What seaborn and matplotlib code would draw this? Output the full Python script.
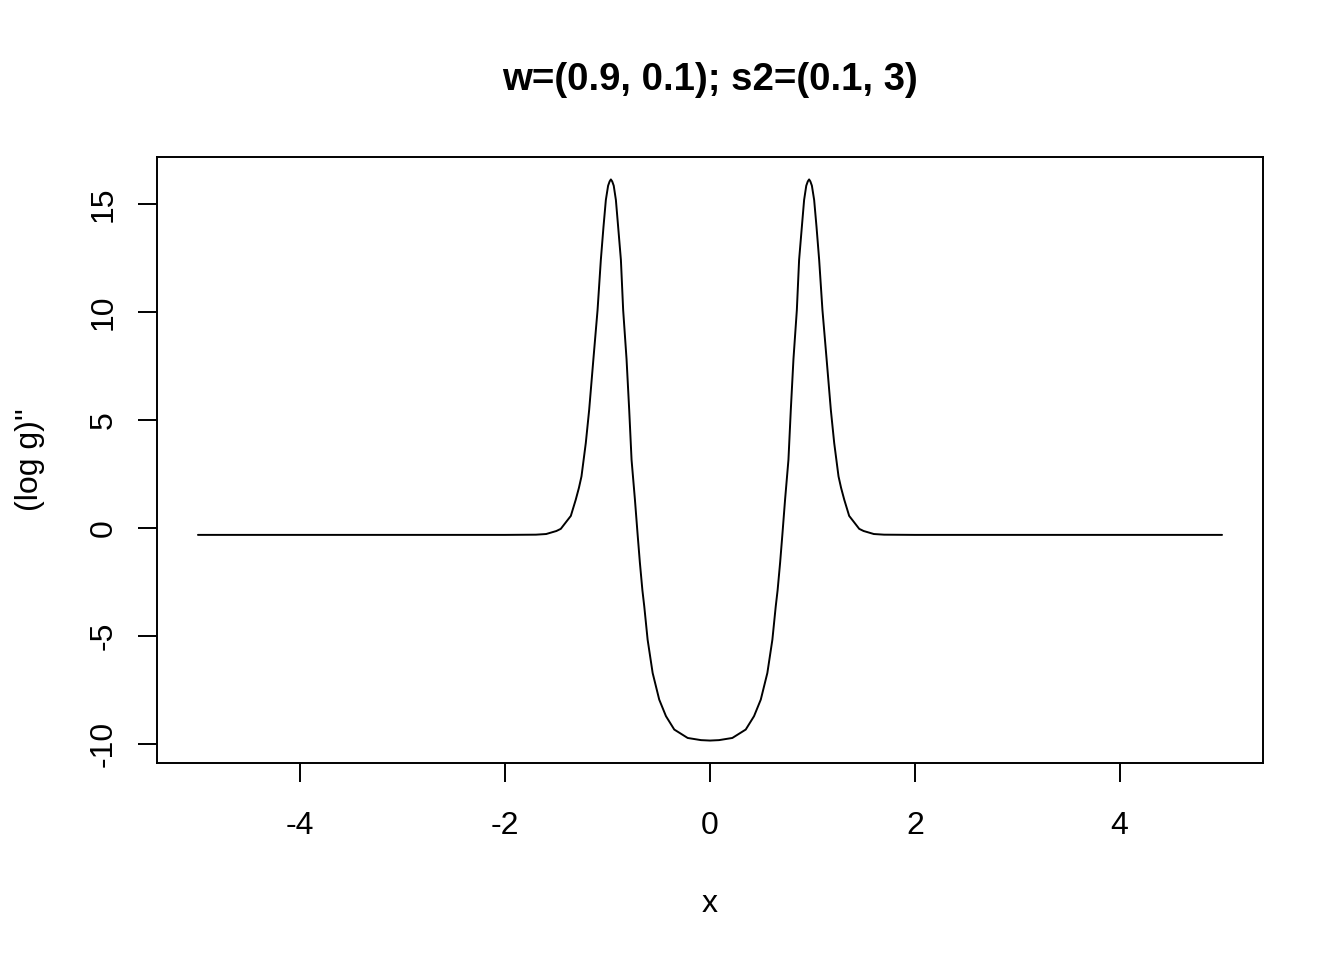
import matplotlib
matplotlib.use("Agg")
import matplotlib.pyplot as plt
import seaborn as sns
import pandas as pd

x_vals = [-5.0, -2.0, -1.7, -1.6, -1.5, -1.457, -1.40, -1.359, -1.311, -1.28, -1.255,
          -1.213, -1.18, -1.138, -1.098, -1.066, -1.04, -1.017, -0.995, -0.98, -0.968,
          -0.955, -0.94, -0.919, -0.897, -0.87, -0.848, -0.815, -0.789, -0.766, -0.733,
          -0.707, -0.685, -0.66, -0.642, -0.609, -0.56, -0.496, -0.43, -0.349, -0.218,
          -0.088, 0.0,
          0.088, 0.218, 0.349, 0.43, 0.496, 0.56, 0.609, 0.642, 0.66, 0.685, 0.707,
          0.733, 0.766, 0.789, 0.815, 0.848, 0.87, 0.897, 0.919, 0.94, 0.955, 0.968,
          0.98, 0.995, 1.017, 1.04, 1.066, 1.098, 1.138, 1.18, 1.213, 1.255, 1.28,
          1.311, 1.359, 1.40, 1.457, 1.5, 1.6, 1.7, 2.0, 5.0]
y_vals = [-0.33, -0.33, -0.32, -0.29, -0.15, -0.05, 0.30, 0.55, 1.30, 1.85, 2.38,
          3.92, 5.46, 7.85, 10.09, 12.41, 13.95, 15.19, 15.85, 16.05, 16.14,
          16.05, 15.85, 15.19, 13.95, 12.41, 10.09, 7.82, 5.46, 3.15, 1.30,
          -0.3, -1.6, -2.9, -3.64, -5.19, -6.73, -7.96, -8.73, -9.35, -9.74,
          -9.84, -9.86,
          -9.84, -9.74, -9.35, -8.73, -7.96, -6.73, -5.19, -3.64, -2.9, -1.6, -0.3,
          1.30, 3.15, 5.46, 7.82, 10.09, 12.41, 13.95, 15.19, 15.85, 16.05, 16.14,
          16.05, 15.85, 15.19, 13.95, 12.41, 10.09, 7.85, 5.46, 3.92, 2.38, 1.85,
          1.30, 0.55, 0.30, -0.05, -0.15, -0.29, -0.32, -0.33, -0.33]
x_ticks = [-4, -2, 0, 2, 4]
y_ticks = [-10, -5, 0, 5, 10, 15]
title = "w=(0.9, 0.1); s2=(0.1, 3)"
x_label = "x"
y_label = "(log g)''"

sns.set_theme(style="white")
plt.rcParams["font.family"] = ["Liberation Sans", "DejaVu Sans"]
plt.rcParams["axes.unicode_minus"] = False
plt.rcParams["text.color"] = "black"
plt.rcParams["axes.labelcolor"] = "black"

df = pd.DataFrame({"x": x_vals, "y": y_vals})

fig = plt.figure(figsize=(13.44, 9.6), dpi=100)
ax = fig.add_axes([157/1344, 1 - 763/960, (1263-157)/1344, (763-157)/960])
sns.lineplot(data=df, x="x", y="y", color="black", linewidth=1.4, ax=ax, sort=False)

xr = max(x_vals) - min(x_vals)
yr = max(y_vals) - min(y_vals)
ax.set_xlim(min(x_vals) - 0.04*xr, max(x_vals) + 0.04*xr)
ax.set_ylim(min(y_vals) - 0.04*yr, max(y_vals) + 0.04*yr)

ax.set_xticks(x_ticks)
ax.set_xticklabels([str(t) for t in x_ticks])
ax.set_yticks(y_ticks)
ax.set_yticklabels([str(t) for t in y_ticks], rotation=90, va="center")
ax.tick_params(axis="both", direction="out", length=13.8, width=1.4, color="black",
               labelsize=23, labelcolor="black", bottom=True, left=True)
ax.tick_params(axis="x", pad=21)
ax.tick_params(axis="y", pad=13.5)
for s in ax.spines.values():
    s.set_visible(True)
    s.set_color("black")
    s.set_linewidth(1.4)

ax.set_xlabel(x_label, fontsize=23, labelpad=34, color="black")
ax.set_ylabel(y_label, fontsize=23, labelpad=32, color="black")
fig.text(710/1344, 1 - 80/960, title, fontsize=27.6, fontweight="bold",
         ha="center", va="center", color="black")

fig.savefig("out.png", dpi=100, facecolor="white")
